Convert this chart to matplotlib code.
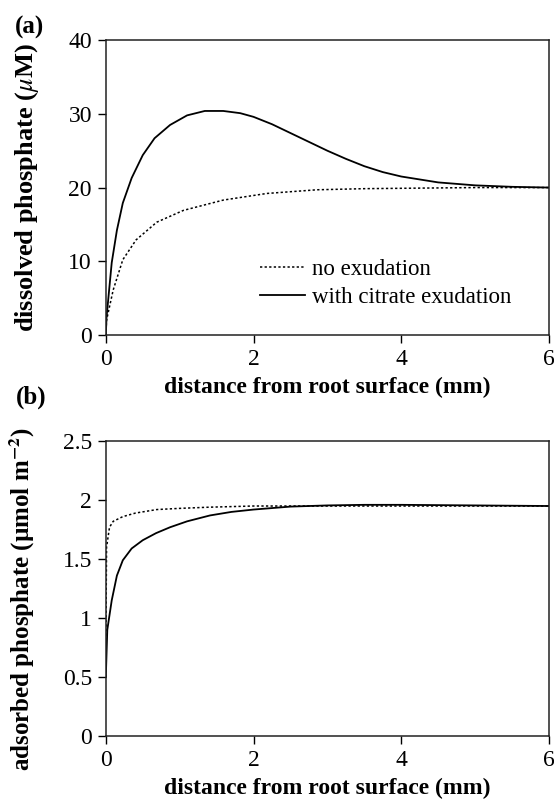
import numpy as np
import matplotlib
matplotlib.use("Agg")
import matplotlib.pyplot as plt

plt.rcParams['font.family'] = ['Liberation Serif', 'DejaVu Serif']
plt.rcParams['mathtext.fontset'] = 'stix'

# panel (a): dissolved phosphate (uM) vs distance (mm)
dist_a_cit = [0, 0.01, 0.08, 0.15, 0.23, 0.35, 0.5, 0.66, 0.87, 1.1, 1.34, 1.59,
              1.82, 2.0, 2.25, 2.5, 2.75, 3.0, 3.25, 3.5, 3.75, 4.0, 4.5, 5.0, 5.5, 6.0]
diss_cit = [0, 2.4, 9.8, 14.2, 17.9, 21.3, 24.4, 26.7, 28.5, 29.8, 30.4, 30.4,
            30.1, 29.6, 28.6, 27.4, 26.2, 25.0, 23.9, 22.9, 22.1, 21.5, 20.7, 20.3, 20.1, 20.0]
dist_a_none = [0, 0.01, 0.1, 0.23, 0.41, 0.69, 1.05, 1.59, 2.18, 2.86, 3.5, 4.0, 5.0, 6.0]
diss_none = [0, 2.0, 6.1, 10.2, 12.9, 15.3, 16.9, 18.3, 19.2, 19.7, 19.85, 19.9, 20.0, 20.0]

# panel (b): adsorbed phosphate (umol m-2) vs distance (mm)
dist_b_cit = [0, 0.02, 0.08, 0.15, 0.23, 0.35, 0.5, 0.68, 0.87, 1.1, 1.41, 1.7, 2.0,
              2.5, 3.0, 3.5, 4.0, 5.0, 6.0]
ads_cit = [0.5, 0.9, 1.15, 1.36, 1.49, 1.59, 1.66, 1.72, 1.77, 1.82, 1.87, 1.9, 1.92,
           1.945, 1.955, 1.96, 1.96, 1.955, 1.95]
dist_b_none = [0, 0.005, 0.01, 0.05, 0.1, 0.23, 0.4, 0.69, 1.0, 1.4, 2.0, 3.0, 4.0, 6.0]
ads_none = [0.5, 1.2, 1.6, 1.77, 1.82, 1.86, 1.89, 1.92, 1.93, 1.94, 1.95, 1.95, 1.95, 1.95]

xticks = [0, 2, 4, 6]
yticks_a = [0, 10, 20, 30, 40]
yticks_b = [0, 0.5, 1, 1.5, 2, 2.5]
yticklabels_b = ['0', '0.5', '1', '1.5', '2', '2.5']

fig = plt.figure(figsize=(5.54, 8.05), dpi=100)
ax_a = fig.add_axes([0.191, 0.584, 0.800, 0.366])
ax_b = fig.add_axes([0.191, 0.0857, 0.800, 0.3663])

dot = (0, (1.5, 1.5))
fs = 17

ax_a.plot(dist_a_none, diss_none, color='black', lw=1.1, ls=dot, label='no exudation')
ax_a.plot(dist_a_cit, diss_cit, color='black', lw=1.3, label='with citrate exudation')
ax_b.plot(dist_b_none, ads_none, color='black', lw=1.1, ls=dot)
ax_b.plot(dist_b_cit, ads_cit, color='black', lw=1.3)

for ax in (ax_a, ax_b):
    ax.set_xlim(0, 6)
    ax.set_xticks(xticks)
    ax.tick_params(direction='out', length=6, width=1, labelsize=fs, pad=4)
    for sp in ax.spines.values():
        sp.set_linewidth(1.1)
        sp.set_color('#222222')
    ax.set_xlabel('distance from root surface (mm)', fontsize=fs, fontweight='bold', labelpad=5)

ax_a.set_ylim(0, 40)
ax_a.set_yticks(yticks_a)
ax_b.set_ylim(0, 2.5)
ax_b.set_yticks(yticks_b)
ax_b.set_yticklabels(yticklabels_b)

ax_a.set_ylabel(r'dissolved phosphate ($\mu$M)', fontsize=19, fontweight='bold')
ax_b.set_ylabel(r'adsorbed phosphate (µmol m$^{\mathbf{-2}}$)', fontsize=18, fontweight='bold')
ax_a.yaxis.set_label_coords(-0.147, 0.5)
ax_b.yaxis.set_label_coords(-0.155, 0.464)

ax_a.legend(loc='lower left', bbox_to_anchor=(0.348, 0.09), frameon=False,
            fontsize=16.5, handlelength=1.95, handletextpad=0.3, labelspacing=0.3,
            borderpad=0, borderaxespad=0)

fig.text(0.027, 0.966, '(a)', fontsize=18, fontweight='bold', va='center')
fig.text(0.029, 0.506, '(b)', fontsize=18, fontweight='bold', va='center')

fig.savefig('out.png', dpi=100)
